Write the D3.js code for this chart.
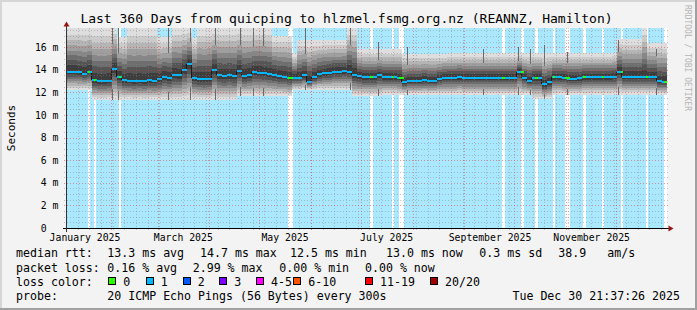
<!DOCTYPE html>
<html>
<head>
<meta charset="utf-8">
<title>Last 360 Days from quicping to hlzmel.fsmg.org.nz</title>
<script src="https://cdn.jsdelivr.net/npm/d3@7"></script>
<style>
  body { margin: 0; background: #f3f3f3; }
  svg text { font-family: "DejaVu Sans Mono", monospace; fill: #000; white-space: pre; }
</style>
</head>
<body>
<div id="chart"></div>
<script>
// ---- data ----
var rangeStart = Date.UTC(2025, 0, 4, 21, 37, 26),
    rangeEnd   = Date.UTC(2025, 11, 30, 21, 37, 26);
var bucketDays = 3;   // one value per 3 days

// median rtt (ms) per bucket
var rttMedian = [13.85,13.85,13.8,13.65,13.85,13.1,13.0,13.0,13.05,14.1,
                 13.4,13.1,13.05,13.0,13.05,13.0,13.1,13.05,13.15,13.4,
                 13.3,13.55,13.5,14.0,14.5,13.3,13.2,13.15,13.2,14.0,
                 13.5,13.45,13.5,13.45,13.9,13.45,13.55,13.8,13.75,13.7,
                 13.6,13.55,13.45,13.4,13.3,13.3,13.3,13.5,12.95,13.35,
                 13.6,13.7,13.75,13.85,13.85,13.9,13.85,13.55,13.45,13.35,
                 13.35,13.35,13.5,13.35,13.35,13.35,13.3,12.9,13.05,13.05,
                 13.05,13.1,13.05,13.05,13.2,13.3,13.3,13.3,13.35,13.3,
                 13.3,13.3,13.3,13.3,13.3,13.3,13.3,13.3,13.3,13.3,
                 13.8,13.3,13.05,13.3,13.3,12.7,12.9,13.35,13.35,13.3,
                 13.2,13.2,13.25,13.35,13.35,13.35,13.35,13.35,13.35,13.4,
                 13.8,13.4,13.4,13.4,13.4,13.4,13.4,13.4,13.0,12.95];

// lowest ping (ms) per bucket
var smokeLow = [12.2,12.2,12.2,12.2,12.2,11.35,11.35,11.35,11.35,11.35,
                11.35,11.35,11.35,11.35,11.35,11.35,11.35,11.35,11.35,11.35,
                11.35,11.35,11.35,11.35,11.35,11.35,11.35,11.35,11.35,11.35,
                11.35,11.35,11.35,11.35,11.65,11.65,11.65,11.65,11.65,11.65,
                11.65,11.65,11.65,11.65,11.65,12.2,12.2,12.2,12.2,12.2,
                12.2,12.2,12.2,12.2,12.2,12.2,12.2,11.65,11.65,11.65,
                11.65,11.65,11.65,11.8,11.8,11.8,11.8,11.8,11.8,11.8,
                11.8,11.8,11.8,11.8,11.8,11.8,11.8,11.8,11.8,11.8,
                11.8,11.8,11.8,11.8,11.8,11.8,11.8,11.8,11.8,11.8,
                11.8,11.8,11.8,11.4,11.4,11.4,11.4,11.8,11.8,11.8,
                11.8,11.8,11.8,11.8,11.8,11.8,11.8,11.8,11.8,11.8,
                11.8,11.8,11.8,11.8,11.8,11.8,11.8,11.8,11.8,11.8];

// highest ping (ms) per bucket
var smokeHigh = [17.7,17.7,17.7,17.7,17.7,17.7,17.7,17.7,17.7,17.7,
                 16.9,16.9,17.7,17.7,17.7,17.7,17.7,17.7,16.9,16.9,
                 16.9,17.7,17.7,17.7,17.7,16.8,17.7,17.7,17.7,17.7,
                 17.7,17.7,17.7,17.7,17.7,17.7,17.7,17.7,17.7,17.7,
                 17.7,17.0,17.0,17.0,17.0,15.5,16.6,16.6,16.6,16.6,
                 16.6,16.6,16.6,16.6,16.6,16.6,17.7,17.7,15.8,15.8,
                 15.8,15.8,15.8,15.8,15.8,15.8,15.8,15.4,15.4,15.4,
                 15.4,15.4,15.4,15.4,15.4,15.4,15.5,15.5,15.5,15.5,
                 15.5,15.5,15.5,15.5,15.5,15.5,15.5,15.5,15.5,15.5,
                 15.5,15.5,15.5,15.5,15.5,15.5,15.5,15.5,15.5,15.5,
                 15.5,15.5,15.5,15.5,15.5,15.5,15.5,15.5,15.5,15.5,
                 16.7,16.7,16.7,16.7,16.7,17.7,16.4,16.4,16.4,16.4];

// periods without loss (days since start)
var zeroLossFrom = [12.9, 16.5, 31.5, 132.9, 182.1, 195.3, 199.5, 261.3, 272.7, 281.1, 291.9, 299.1, 309.9, 321.3, 332.7, 347.7, 358.5];
var zeroLossTo   = [14.1, 17.7, 32.7, 135.9, 183.9, 196.5, 202.5, 263.1, 274.5, 282.9, 293.1, 302.1, 311.7, 322.5, 333.9, 348.9, 360];

// single high-ping outliers (day, top ms)
var spikeDay = [27.3, 30.9, 60.9, 74.1, 89.1, 104.1, 111.9, 117.9, 143.1, 170.1, 186.9, 204.3, 249.9, 271.2, 278.1, 286.5, 300.3, 330.9, 353.7];
var spikeTop = [17.7, 17.7, 17.7, 17.7, 17.7, 17.7, 17.7, 17.7, 17.7, 17.7, 16.5, 16.0, 15.8, 16.0, 15.8, 16.2, 15.6, 16.6, 15.8];

var yTicks = [0, 2, 4, 6, 8, 10, 12, 14, 16];
var yTickLabels = ["0  ", "2 m", "4 m", "6 m", "8 m", "10 m", "12 m", "14 m", "16 m"];
var xTickLabels = ["January 2025", "March 2025", "May 2025", "July 2025", "September 2025", "November 2025"];

var lossLabels = ["0", "1", "2", "3", "4-5", "6-10", "11-19", "20/20"];
var lossColors = ["#26ff00", "#00b8ff", "#0059ff", "#7e00ff", "#ff00ff", "#ff5500", "#ff0000", "#a10000"];

var rttStats  = ["13.3 ms avg", "14.7 ms max", "12.5 ms min", "13.0 ms now", "0.3 ms sd", "38.9", "am/s"];
var lossStats = ["0.16 % avg", "2.99 % max", "0.00 % min", "0.00 % now"];

// ---- layout ----
var W = 697, H = 310;
var plotLeft = 66.5, plotRight = 666.5, plotTop = 28, plotBottom = 228;
var yMax = 17.7;

var x = d3.scaleUtc().domain([rangeStart, rangeEnd]).range([plotLeft, plotRight]);
var y = d3.scaleLinear().domain([0, yMax]).range([plotBottom, plotTop]);
function dayDate(d) { return new Date(rangeStart + d * 864e5); }
function dx(d) { return x(dayDate(d)); }

var svg = d3.select("#chart").append("svg").attr("width", W).attr("height", H);

// canvas + frame
svg.append("rect").attr("width", W).attr("height", H).attr("fill", "#f3f3f3");
svg.append("rect").attr("x", 0).attr("y", 0).attr("width", W).attr("height", 2).attr("fill", "#d6d6d6");
svg.append("rect").attr("x", 0).attr("y", 0).attr("width", 2).attr("height", H).attr("fill", "#d6d6d6");
svg.append("rect").attr("x", 0).attr("y", H - 2).attr("width", W).attr("height", 2).attr("fill", "#a0a0a0");
svg.append("rect").attr("x", W - 2).attr("y", 0).attr("width", 2).attr("height", H).attr("fill", "#a0a0a0");

var plot = svg.append("g").attr("shape-rendering", "crispEdges");

// loss background: light blue, white where no loss
plot.append("rect").attr("x", plotLeft).attr("y", plotTop).attr("width", plotRight - plotLeft)
    .attr("height", plotBottom - plotTop).attr("fill", "#aae8ff");
plot.append("g").selectAll("rect").data(zeroLossFrom).join("rect")
    .attr("x", function(d) { return dx(d); })
    .attr("width", function(d, i) { return Math.max(1, dx(zeroLossTo[i]) - dx(d)); })
    .attr("y", plotTop).attr("height", plotBottom - plotTop)
    .attr("fill", "#ffffff");

// smoke
var upFrac  = [1.0, 0.85, 0.72, 0.6, 0.48, 0.37, 0.26, 0.14];
var lowFrac = [1.0, 0.88, 0.76, 0.64, 0.52, 0.4, 0.28, 0.14];
var smokeGreys = ["#dedede", "#cbcbcb", "#b5b5b5", "#9f9f9f", "#878787", "#6e6e6e", "#555555", "#3d3d3d"];
var buckets = d3.range(rttMedian.length);

upFrac.forEach(function(u, k) {
  plot.append("g").selectAll("rect").data(buckets).join("rect")
      .attr("x", function(i) { return dx(i * bucketDays); })
      .attr("width", function(i) { return dx((i + 1) * bucketDays) - dx(i * bucketDays); })
      .attr("y", function(i) { return y(rttMedian[i] + (smokeHigh[i] - rttMedian[i]) * u); })
      .attr("height", function(i) {
        return y(rttMedian[i] - (rttMedian[i] - smokeLow[i]) * lowFrac[k]) - y(rttMedian[i] + (smokeHigh[i] - rttMedian[i]) * u);
      })
      .attr("fill", smokeGreys[k]);

  if (k == 2) {
    // outlier streaks sit behind the dark core
    plot.append("g").selectAll("line").data(spikeDay).join("line")
        .attr("x1", function(d) { return Math.floor(dx(d)) + 0.5; })
        .attr("x2", function(d) { return Math.floor(dx(d)) + 0.5; })
        .attr("y1", function(d) { return y(smokeLow[Math.floor(d / bucketDays)]); })
        .attr("y2", function(d, i) { return y(spikeTop[i]); })
        .attr("stroke", "#6a6a6a").attr("stroke-width", 1);
  }
});

// median: dark step connectors + coloured blobs
plot.append("g").selectAll("line").data(buckets.slice(1)).join("line")
    .attr("x1", function(i) { return Math.floor(dx(i * bucketDays)) + 0.5; })
    .attr("x2", function(i) { return Math.floor(dx(i * bucketDays)) + 0.5; })
    .attr("y1", function(i) { return y(rttMedian[i - 1]); })
    .attr("y2", function(i) { return y(rttMedian[i]); })
    .attr("stroke", "#1c1c1c").attr("stroke-width", 1);

plot.append("g").selectAll("rect").data(buckets).join("rect")
    .attr("x", function(i) { return dx(i * bucketDays); })
    .attr("width", function(i) { return dx((i + 1) * bucketDays) - dx(i * bucketDays); })
    .attr("y", function(i) { return y(rttMedian[i]) - 1; })
    .attr("height", 2)
    .attr("fill", lossColors[1]);

plot.append("g").selectAll("rect").data(zeroLossFrom).join("rect")
    .attr("x", function(d) { return dx(d); })
    .attr("width", function(d, i) { return Math.max(2, dx(zeroLossTo[i]) - dx(d)); })
    .attr("y", function(d) { return y(rttMedian[Math.min(rttMedian.length - 1, Math.floor(d / bucketDays))]) - 1; })
    .attr("height", 2)
    .attr("fill", lossColors[0]);

// grid (drawn over the data, translucent, dotted)
var minorCol = "rgba(130,130,130,0.45)", majorCol = "rgba(225,55,55,0.5)";
var grid = svg.append("g").attr("shape-rendering", "crispEdges");
var halfSteps = d3.range(0.5, yMax, 0.5).filter(function(v) { return v % 2 != 0; });

grid.selectAll(".hmin").data(halfSteps).join("line").attr("class", "hmin")
    .attr("x1", plotLeft - 3).attr("x2", plotRight + 3)
    .attr("y1", function(v) { return Math.round(y(v)) + 0.5; })
    .attr("y2", function(v) { return Math.round(y(v)) + 0.5; })
    .attr("stroke", minorCol).attr("stroke-dasharray", "1,2");

var weeks = d3.utcSunday.range(new Date(rangeStart), new Date(rangeEnd));
grid.selectAll(".vmin").data(weeks).join("line").attr("class", "vmin")
    .attr("x1", function(d) { return Math.floor(x(d)) + 0.5; })
    .attr("x2", function(d) { return Math.floor(x(d)) + 0.5; })
    .attr("y1", plotTop).attr("y2", plotBottom + 3)
    .attr("stroke", minorCol).attr("stroke-dasharray", "1,2");

grid.selectAll(".hmaj").data(yTicks.slice(1)).join("line").attr("class", "hmaj")
    .attr("x1", plotLeft - 3).attr("x2", plotRight + 3)
    .attr("y1", function(v) { return Math.round(y(v)) + 0.5; })
    .attr("y2", function(v) { return Math.round(y(v)) + 0.5; })
    .attr("stroke", majorCol).attr("stroke-dasharray", "1,2");

var months = d3.utcMonth.range(new Date(rangeStart), new Date(rangeEnd));
grid.selectAll(".vmaj").data(months).join("line").attr("class", "vmaj")
    .attr("x1", function(d) { return Math.floor(x(d)) + 0.5; })
    .attr("x2", function(d) { return Math.floor(x(d)) + 0.5; })
    .attr("y1", plotTop).attr("y2", plotBottom + 3)
    .attr("stroke", majorCol).attr("stroke-dasharray", "1,2");

// axes
var axes = svg.append("g").attr("shape-rendering", "crispEdges");
axes.append("line").attr("x1", plotLeft - 4).attr("x2", plotRight + 2)
    .attr("y1", plotBottom + 0.5).attr("y2", plotBottom + 0.5).attr("stroke", "#000");
axes.append("line").attr("x1", plotLeft).attr("x2", plotLeft)
    .attr("y1", plotBottom + 4).attr("y2", plotTop - 4).attr("stroke", "#333");
svg.append("path").attr("d", "M" + plotLeft + ",21.5L" + (plotLeft - 3) + ",26.5L" + (plotLeft + 3) + ",26.5Z")
    .attr("fill", "#9a1414");
svg.append("path").attr("d", "M673.5," + (plotBottom + 0.5) + "L668.5," + (plotBottom - 2.5) + "L668.5," + (plotBottom + 3.5) + "Z")
    .attr("fill", "#9a1414");

// y labels
svg.append("g").selectAll("text").data(yTicks).join("text")
    .attr("x", 58.5).attr("y", function(v) { return y(v) + 3.5; })
    .attr("text-anchor", "end").attr("font-size", "9.8px")
    .text(function(v, i) { return yTickLabels[i]; });

// x labels, centred half a month after each labelled month start
var labelMonths = d3.utcMonth.every(2).range(new Date(Date.UTC(2025, 0, 1)), new Date(rangeEnd));
svg.append("g").selectAll("text").data(labelMonths).join("text")
    .attr("x", function(d) { return x(d3.utcDay.offset(d, 15)); })
    .attr("y", 240.5).attr("text-anchor", "middle").attr("font-size", "9.8px")
    .text(function(d, i) { return xTickLabels[i]; });

// titles
svg.append("text").attr("x", 346.5).attr("y", 23).attr("text-anchor", "middle").attr("font-size", "13px")
    .text("Last 360 Days from quicping to hlzmel.fsmg.org.nz (REANNZ, Hamilton)");
svg.append("text").attr("transform", "translate(15,128) rotate(-90)").attr("text-anchor", "middle").attr("font-size", "11px")
    .text("Seconds");
svg.append("text").attr("transform", "translate(685,5) rotate(90)").attr("font-size", "8px")
    .style("fill", "#b4b4b4").text("RRDTOOL / TOBI OETIKER");

// legend
var lg = svg.append("g").attr("font-size", "11.6px");
var row1 = [107.3, 200, 290, 386, 479.3, 558.3, 607.3];
var row2 = [107.3, 192.7, 279.3, 365];
var swatchX = [108.3, 145.7, 182.7, 219.3, 256, 293.3, 365, 430];

lg.append("text").attr("x", 16).attr("y", 257.3).text("median rtt:");
lg.selectAll(".r1").data(rttStats).join("text").attr("class", "r1")
    .attr("x", function(d, i) { return row1[i]; }).attr("y", 257.3).text(function(d) { return d; });

lg.append("text").attr("x", 16).attr("y", 271.5).text("packet loss:");
lg.selectAll(".r2").data(lossStats).join("text").attr("class", "r2")
    .attr("x", function(d, i) { return row2[i]; }).attr("y", 271.5).text(function(d) { return d; });

lg.append("text").attr("x", 16).attr("y", 285.7).text("loss color:");
lg.selectAll(".sw").data(lossColors).join("rect").attr("class", "sw")
    .attr("x", function(d, i) { return Math.round(swatchX[i]) + 0.5; }).attr("y", 277.5)
    .attr("width", 7).attr("height", 7)
    .attr("fill", function(d) { return d; }).attr("stroke", "#000").attr("shape-rendering", "crispEdges");
lg.selectAll(".sl").data(lossLabels).join("text").attr("class", "sl")
    .attr("x", function(d, i) { return swatchX[i] + 15; }).attr("y", 285.7).text(function(d) { return d; });

lg.append("text").attr("x", 16).attr("y", 300).text("probe:");
lg.append("text").attr("x", 107.3).attr("y", 300).text("20 ICMP Echo Pings (56 Bytes) every 300s");
lg.append("text").attr("x", 680).attr("y", 300).attr("text-anchor", "end").text("Tue Dec 30 21:37:26 2025");
</script>
</body>
</html>
